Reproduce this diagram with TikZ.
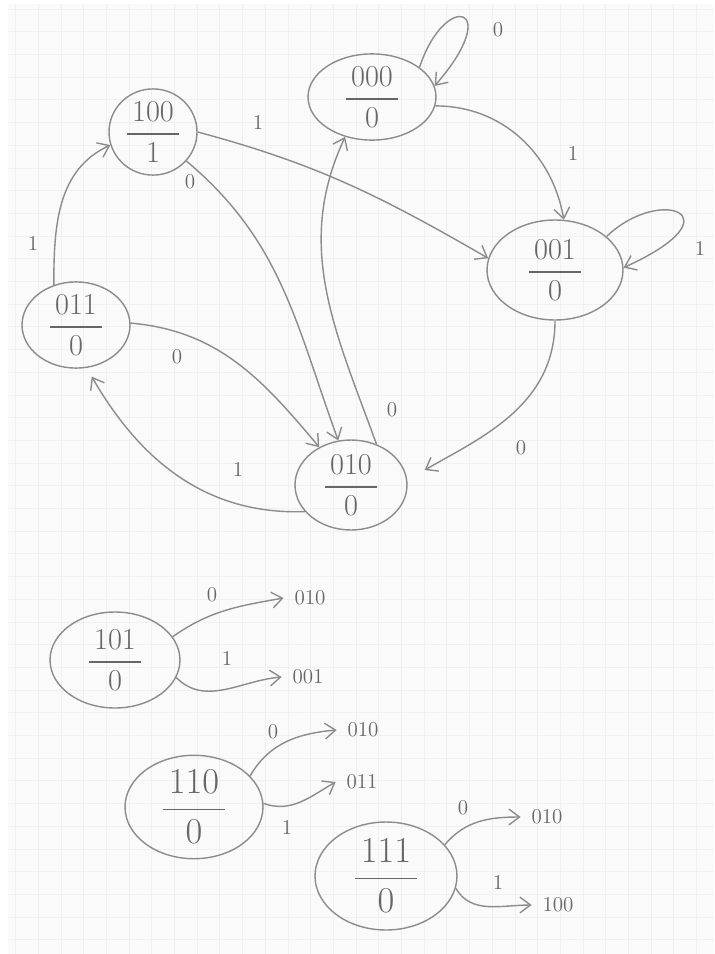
\documentclass[tikz,border=0pt]{standalone}
\usepackage{amsmath}
\usetikzlibrary{shapes.geometric,arrows.meta}
\newcommand{\stlabel}[2]{$\displaystyle\frac{\,#1\,}{#2}$}
\begin{document}
\begin{tikzpicture}[x=0.02cm, y=-0.02cm,
  >={Straight Barb[length=6pt,width=9pt]},
  state/.style={ellipse, draw=black!45, thick, text=black!60, font=\LARGE, inner sep=0pt},
  edge/.style={->, draw=black!45, thick},
  lbl/.style={text=black!60, font=\large},
  dest/.style={text=black!60, font=\large, inner sep=6pt}]
\useasboundingbox (0,0) rectangle (714,954);

% Paper grid
\fill[black!2] (8,4) rectangle (714,954);
\foreach \i in {0,...,30}
    \draw[black!6] (15.5+\i*22.7,4) -- (15.5+\i*22.7,954);
\foreach \j in {0,...,41}
    \draw[black!6] (8,9+\j*22.7) -- (714,9+\j*22.7);

% States (state / output)
\node[state, minimum width=2.56cm, minimum height=1.6cm] (s000) at (372,97) {\stlabel{000}{0}};
\node[state, minimum width=1.76cm, minimum height=1.6cm] (s100) at (153,132) {\stlabel{100}{1}};
\node[state, minimum width=2.72cm, minimum height=2cm] (s001) at (555,270) {\stlabel{001}{0}};
\node[state, minimum width=2.16cm, minimum height=1.72cm] (s011) at (76,325) {\stlabel{011}{0}};
\node[state, minimum width=2.24cm, minimum height=1.8cm] (s010) at (351,485) {\stlabel{010}{0}};

% Transitions
\draw[edge] (s000.32) .. controls (445,-10) and (505,5) .. (s000.10);
\draw[edge] (s000.-8) to[out=0,in=100] (s001.80);
\draw[edge] (s001.33) .. controls (660,185) and (740,215) .. (s001.2);
\draw[edge] (s100.0) to[out=-15,in=150] (s001.170);
\draw[edge] (s100.-41) to[out=-40,in=110] (s010.106);
\draw[edge] (s011.119) to[out=90,in=205] (s100.197);
\draw[edge] (s011.2) to[out=-5,in=130] (s010.130);
\draw[edge, shorten >=0.2cm] (s010.210) to[out=182,in=-60] (s011.-76);
\draw[edge] (s010.58) to[out=110,in=245] (s000.236);
\draw[edge, shorten >=0.4cm] (s001.-90) to[out=-90,in=30] (s010.5);

% Input labels
\node[lbl] (l1) at (498,30) {0};
\node[lbl] (l2) at (573,153) {1};
\node[lbl] (l3) at (700,248) {1};
\node[lbl] (l4) at (258,122) {1};
\node[lbl] (l5) at (190,182) {0};
\node[lbl] (l6) at (33,243) {1};
\node[lbl] (l7) at (177,357) {0};
\node[lbl] (l8) at (238,469) {1};
\node[lbl] (l9) at (392,410) {0};
\node[lbl] (l10) at (521,448) {0};

% Unused states
\node[state, minimum width=2.6cm, minimum height=1.92cm] (s101) at (115,660) {\stlabel{101}{0}};
\node[dest] (d101a) at (310,598) {010};
\node[dest] (d101b) at (308,677) {001};
\draw[edge] (s101.22) to[out=35,in=190] (d101a.west);
\draw[edge] (s101.-16) to[out=-45,in=185] (d101b.west);
\node[lbl] (l11) at (212,595) {0};
\node[lbl] (l12) at (227,658) {1};

\node[state, font=\huge, minimum width=2.76cm, minimum height=1.84cm] (s110) at (194,807) {\stlabel{110}{0}};
\node[dest] (d110a) at (363,730) {010};
\node[dest] (d110b) at (362,782) {011};
\draw[edge] (s110.29) to[out=60,in=185] (d110a.west);
\draw[edge] (s110.3) to[out=-20,in=210] (d110b.west);
\node[lbl] (l13) at (273,732) {0};
\node[lbl] (l14) at (287,827) {1};

\node[state, font=\huge, minimum width=2.84cm, minimum height=2.16cm] (s111) at (386,876) {\stlabel{111}{0}};
\node[dest] (d111a) at (547,817) {010};
\node[dest] (d111b) at (558,905) {100};
\draw[edge] (s111.28) to[out=50,in=180] (d111a.west);
\draw[edge] (s111.-10) to[out=-60,in=180] (d111b.west);
\node[lbl] (l15) at (463,808) {0};
\node[lbl] (l16) at (498,882) {1};
\end{tikzpicture}
\end{document}
